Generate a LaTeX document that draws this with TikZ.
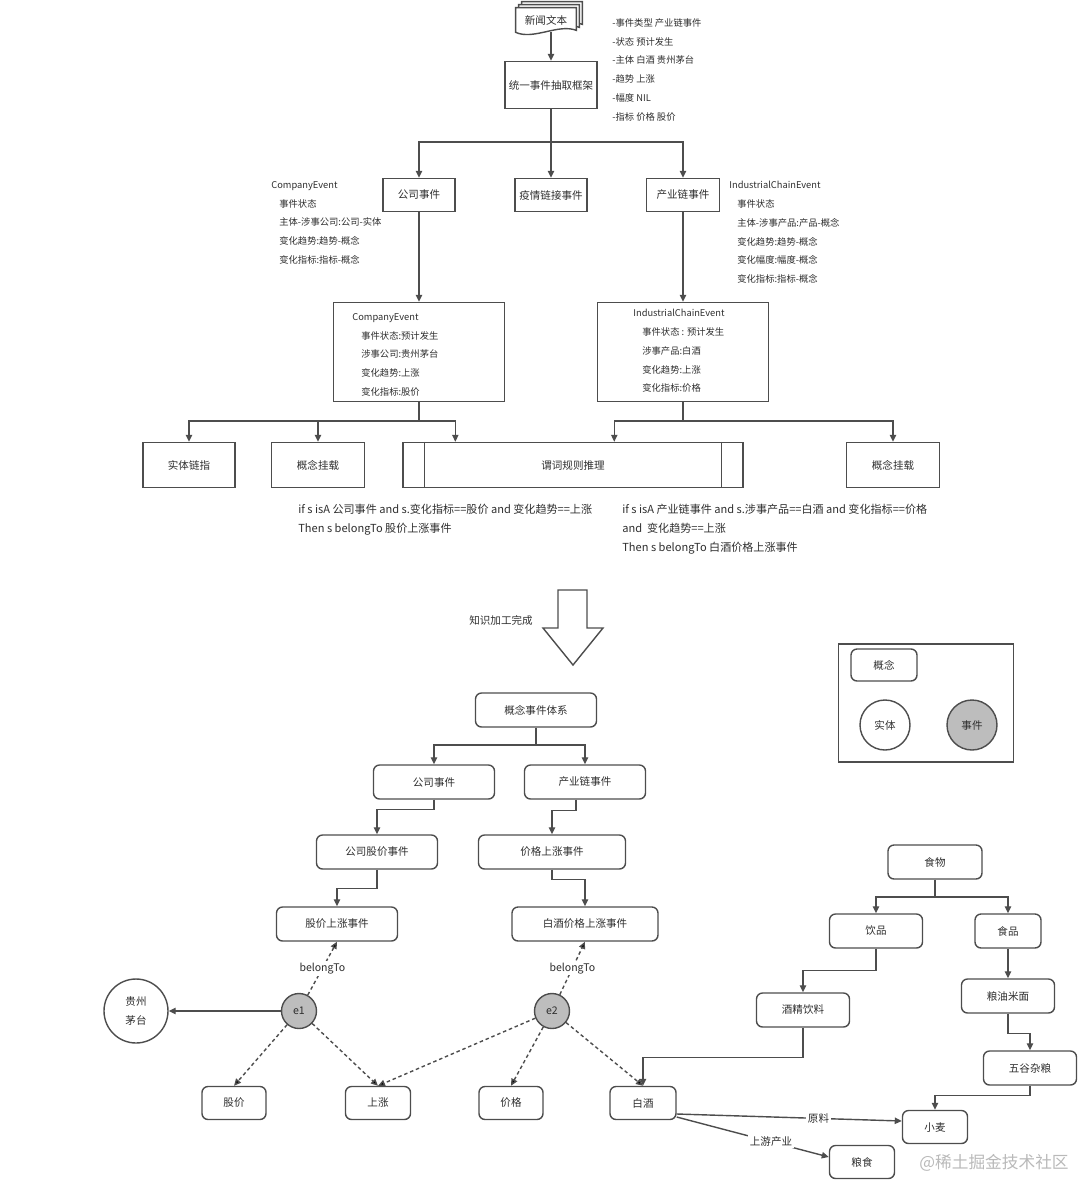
\documentclass[tikz,border=0pt]{standalone}
\usepackage{fontspec}
\setmainfont{Noto Sans CJK SC}
\usepackage{xcolor}
\usepackage{tikz}
\usetikzlibrary{positioning, arrows.meta, calc, backgrounds}

\definecolor{linegray}{HTML}{4D4D4D}
\definecolor{txtgray}{HTML}{2E2E2E}
\definecolor{evgray}{HTML}{BDBDBD}

\begin{document}
\begin{tikzpicture}[x=0.02cm, y=-0.02cm,
		every node/.style={text=txtgray, font=\fontsize{6}{7}\selectfont},
		sq/.style={draw=linegray, line width=0.8pt, rectangle, minimum height=0.66cm, inner sep=1pt},
		rnd/.style={sq, rounded corners=0.12cm, minimum height=0.68cm},
		ball/.style={draw=linegray, line width=0.8pt, circle, inner sep=0pt},
		note/.style={anchor=north west, inner sep=0pt, align=left, font=\fontsize{5.3}{10.7}\selectfont},
		link/.style={draw=linegray, line width=0.8pt},
		arr/.style={link, -{Triangle[length=4pt, width=3.6pt]}},
		dasharr/.style={arr, dash pattern=on 2pt off 1.6pt}]
		\useasboundingbox (0,0) rectangle (1080,1181);

		% Nodes: extraction part
		\node (news) [minimum width=1.2cm, minimum height=0.48cm] at (546,20) {新闻文本};
		\begin{scope}[on background layer]
			\foreach \d in {6,3,0}
				\draw[link, fill=white] ($(news.north west)+(\d,-\d)$) -- ($(news.north east)+(\d,-\d)$)
					-- ($(news.south east)+(\d,-\d-2)$) .. controls +(-18,-7) and +(18,8) .. ($(news.south west)+(\d,-\d)$) -- cycle;
		\end{scope}
		\node (frame) [sq, minimum width=1.84cm, minimum height=0.94cm] at (551,85) {统一事件抽取框架};
		\node (attrs) [note] at (612,18) {-事件类型 产业链事件\\-状态 预计发生\\-主体 白酒 贵州茅台\\-趋势 上涨\\-幅度 NIL\\-指标 价格 股价};

		\node (comp) [sq, minimum width=1.44cm] at (419,195) {公司事件};
		\node (epi) [sq, minimum width=1.44cm] at (551,195) {疫情链接事件};
		\node (ind) [sq, minimum width=1.46cm] at (683,195) {产业链事件};
		\node (compattr) [note] at (271,181) {CompanyEvent\\\hspace*{0.16cm}事件状态\\\hspace*{0.16cm}主体-涉事公司:公司-实体\\\hspace*{0.16cm}变化趋势:趋势-概念\\\hspace*{0.16cm}变化指标:指标-概念};
		\node (indattr) [note] at (729,181) {IndustrialChainEvent\\\hspace*{0.16cm}事件状态\\\hspace*{0.16cm}主体-涉事产品:产品-概念\\\hspace*{0.16cm}变化趋势:趋势-概念\\\hspace*{0.16cm}变化幅度:幅度-概念\\\hspace*{0.16cm}变化指标:指标-概念};

		\node (compev) [sq, minimum width=3.42cm, minimum height=1.98cm] at (419,352) {};
		\node (compevtxt) [note] at (352,313) {CompanyEvent\\\hspace*{0.18cm}事件状态:预计发生\\\hspace*{0.18cm}涉事公司:贵州茅台\\\hspace*{0.18cm}变化趋势:上涨\\\hspace*{0.18cm}变化指标:股价};
		\node (indev) [sq, minimum width=3.42cm, minimum height=1.98cm] at (683,352) {};
		\node (indevtxt) [note] at (633,309) {IndustrialChainEvent\\\hspace*{0.18cm}事件状态 : 预计发生\\\hspace*{0.18cm}涉事产品:白酒\\\hspace*{0.18cm}变化趋势:上涨\\\hspace*{0.18cm}变化指标:价格};

		\node (elink) [sq, minimum width=1.84cm, minimum height=0.9cm] at (189,465) {实体链指};
		\node (mountl) [sq, minimum width=1.86cm, minimum height=0.9cm] at (318,465) {概念挂载};
		\node (rule) [sq, minimum width=6.8cm, minimum height=0.9cm] at (573,465) {谓词规则推理};
		\draw[link] ([xshift=0.44cm]rule.north west) -- ([xshift=0.44cm]rule.south west);
		\draw[link] ([xshift=-0.44cm]rule.north east) -- ([xshift=-0.44cm]rule.south east);
		\node (mountr) [sq, minimum width=1.86cm, minimum height=0.9cm] at (893,465) {概念挂载};

		\node (ruleleft) [note, font=\fontsize{6.3}{10.8}\selectfont] at (298,504) {if s isA 公司事件 and s.变化指标==股价 and 变化趋势==上涨\\Then s belongTo 股价上涨事件};
		\node (ruleright) [note, font=\fontsize{6.3}{10.8}\selectfont] at (622,504) {if s isA 产业链事件 and s.涉事产品==白酒 and 变化指标==价格\\and\ \ 变化趋势==上涨\\Then s belongTo 白酒价格上涨事件};

		% Arrows: extraction part
		\draw[arr] (news.south -| frame.north) -- (frame.north);
		\coordinate (split) at (551,142);
		\draw[link] (frame.south) -- (split);
		\draw[arr] (split) -| (comp.north);
		\draw[arr] (split) -- (epi.north);
		\draw[arr] (split) -| (ind.north);
		\draw[arr] (comp) -- (compev);
		\draw[arr] (ind) -- (indev);
		\coordinate (splitl) at (419,421);
		\draw[link] (compev.south) -- (splitl);
		\draw[arr] (splitl) -| (elink.north);
		\draw[arr] (splitl) -| (mountl.north);
		\draw[arr] (splitl) -| ([xshift=1.06cm]rule.north west);
		\coordinate (splitr) at (683,421);
		\draw[link] (indev.south) -- (splitr);
		\draw[arr] (splitr) -| ([xshift=4.24cm]rule.north west);
		\draw[arr] (splitr) -| (mountr.north);

		% Big hollow arrow
		\node (done) at (501,620) {知识加工完成};
		\draw[link, fill=white] (558,590) -- (587,590) -- (587,628) -- (603,628) -- (573,665) -- (543,628) -- (558,628) -- cycle;

		% Legend
		\node (legend) [draw=linegray, line width=0.9pt, minimum width=3.5cm, minimum height=2.36cm] at (926,703) {};
		\node (lconcept) [rnd, minimum width=1.32cm, minimum height=0.64cm] at (884,665) {概念};
		\node (lentity) [ball, minimum size=1.0cm] at (885,725) {实体};
		\node (levent) [ball, fill=evgray, minimum size=1.0cm] at (972,725) {事件};

		% Nodes: concept event system
		\node (sys) [rnd, minimum width=2.42cm] at (536,710) {概念事件体系};
		\node (ccomp) [rnd, minimum width=2.42cm] at (434,782) {公司事件};
		\node (cind) [rnd, minimum width=2.42cm] at (585,782) {产业链事件};
		\node (cstock) [rnd, minimum width=2.42cm] at (377,852) {公司股价事件};
		\node (cprice) [rnd, minimum width=2.94cm] at (552,852) {价格上涨事件};
		\node (cstockup) [rnd, minimum width=2.42cm] at (337,924) {股价上涨事件};
		\node (cbaijiu) [rnd, minimum width=2.92cm] at (585,924) {白酒价格上涨事件};

		\node (maotai) [ball, minimum size=1.28cm, align=left, font=\fontsize{6}{10.8}\selectfont] at (136,1011) {贵州\\茅台};
		\node (e1) [ball, fill=evgray, minimum size=0.7cm] at (299,1011) {e1};
		\node (e2) [ball, fill=evgray, minimum size=0.7cm] at (552,1011) {e2};
		\node (stock) [rnd, minimum width=1.28cm, minimum height=0.66cm] at (234,1103) {股价};
		\node (rise) [rnd, minimum width=1.3cm, minimum height=0.66cm] at (378,1103) {上涨};
		\node (price) [rnd, minimum width=1.28cm, minimum height=0.66cm] at (511,1103) {价格};
		\node (baijiu) [rnd, minimum width=1.32cm, minimum height=0.66cm] at (643,1103) {白酒};

		\node (food) [rnd, minimum width=1.88cm] at (935,862) {食物};
		\node (drink) [rnd, minimum width=1.86cm] at (876,931) {饮品};
		\node (edible) [rnd, minimum width=1.32cm] at (1008,931) {食品};
		\node (alcohol) [rnd, minimum width=1.86cm] at (803,1010) {酒精饮料};
		\node (oil) [rnd, minimum width=1.86cm] at (1008,996) {粮油米面};
		\node (cereal) [rnd, minimum width=1.86cm] at (1030,1068) {五谷杂粮};
		\node (wheat) [rnd, minimum width=1.3cm, minimum height=0.66cm] at (935,1127) {小麦};
		\node (grain) [rnd, minimum width=1.3cm, minimum height=0.66cm] at (862,1162) {粮食};

		\node (mark) [text=gray!55, font=\fontsize{9.5}{10}\selectfont] at (994,1163) {@稀土掘金技术社区};

		% Arrows: concept event system
		\coordinate (splitc) at (536,745);
		\draw[link] (sys) -- (splitc);
		\draw[arr] (splitc) -| (ccomp.north);
		\draw[arr] (splitc) -| (cind.north);
		\draw[arr] (ccomp.south) -- ++(0,10) -| (cstock.north);
		\draw[arr] ([xshift=-0.18cm]cind.south) -- ++(0,11) -| (cprice.north);
		\draw[arr] (cstock.south) -- ++(0,19) -| (cstockup.north);
		\draw[arr] (cprice.south) -- ++(0,10) -| (cbaijiu.north);

		% Event instances
		\draw[arr] (e1) -- (maotai);
		\path[dasharr] (e1) edge node[fill=white, inner sep=1pt] {belongTo} (cstockup.south)
			edge (stock.north) edge (rise.north);
		\path[dasharr] (e2) edge node[fill=white, inner sep=1pt] {belongTo} (cbaijiu.south)
			edge (rise.north) edge (price.north) edge (baijiu.north);

		% Concept tree
		\coordinate (splitf) at (935,897);
		\draw[link] (food) -- (splitf);
		\draw[arr] (splitf) -| (drink.north);
		\draw[arr] (splitf) -| (edible.north);
		\draw[arr] (drink.south) -- ++(0,22) -| (alcohol.north);
		\draw[arr] (alcohol.south) -- ++(0,30) -| (baijiu.north);
		\draw[arr] (edible) -- (oil);
		\draw[arr] (oil.south) -- ++(0,20) -| (cereal.north);
		\draw[arr] (cereal.south) -- ++(0,10) -| (wheat.north);
		\draw[arr] ([yshift=-0.22cm]baijiu.east) -- node[pos=0.63, fill=white, inner sep=1pt] {原料} ([yshift=0.12cm]wheat.west);
		\draw[arr] ([yshift=-0.28cm]baijiu.east) -- node[pos=0.62, fill=white, inner sep=1pt] {上游产业} ([yshift=0.1cm]grain.west);
	\end{tikzpicture}
\end{document}
